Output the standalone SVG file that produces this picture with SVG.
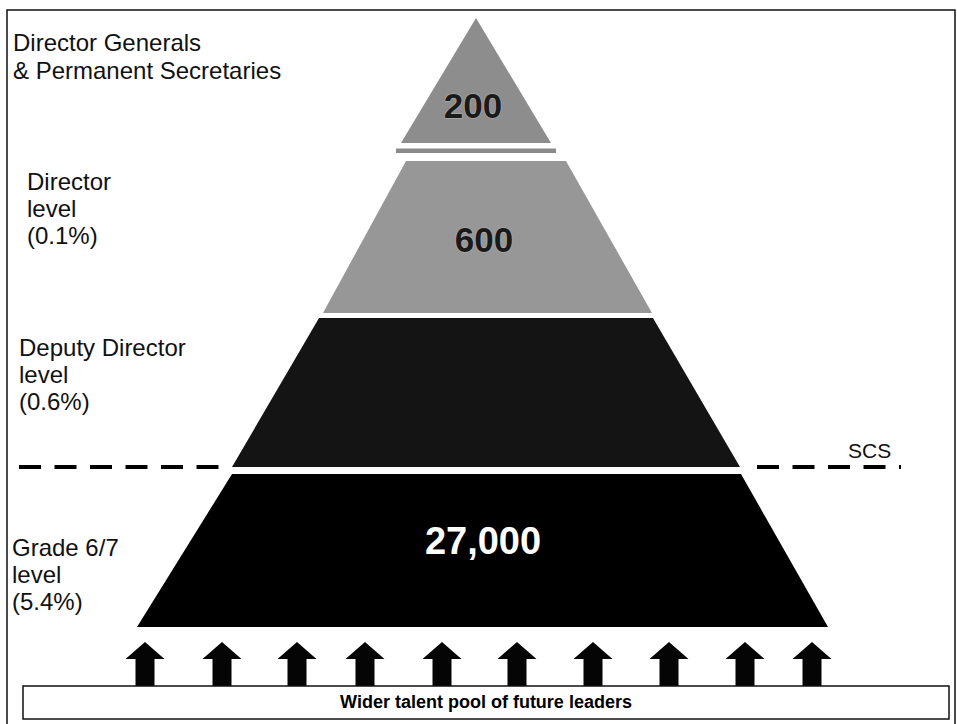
<svg xmlns="http://www.w3.org/2000/svg" width="957" height="724" viewBox="0 0 957 724">
  <style>
    .label { font-family: "Liberation Sans", Arial, sans-serif; font-size: 24px; fill: #111; }
    .count { font-family: "Liberation Sans", Arial, sans-serif; font-size: 35px; font-weight: bold; text-anchor: middle; }
    .dark-count { fill: #1a1a1a; stroke: #b4b4b4; stroke-width: 1.2; paint-order: stroke; }
    .pool-text { font-family: "Liberation Sans", Arial, sans-serif; font-size: 18px; font-weight: bold; text-anchor: middle; fill: #000; }
    .arrow { fill: #050505; }
    .dash { stroke: #000; stroke-width: 4; stroke-dasharray: 22 13.5; fill: none; }
  </style>

  <!-- outer frame -->
  <rect x="7" y="10" width="948" height="716" fill="#fff" stroke="#111" stroke-width="1.5"/>

  <!-- pyramid tiers -->
  <g id="tier-dg">
    <polygon points="476,18 551,143 401,143" fill="#8d8d8d"/>
    <rect x="396" y="148.5" width="160" height="4.5" fill="#8a8a8a"/>
    <text class="count dark-count" x="473" y="118">200</text>
    <text class="label" x="13" y="51">Director Generals</text>
    <text class="label" x="13" y="79">&amp; Permanent Secretaries</text>
  </g>

  <g id="tier-director">
    <polygon points="406,161 566,161 652,313 323,313" fill="#979797"/>
    <text class="count dark-count" x="484" y="252">600</text>
    <text class="label" x="27" y="190">Director</text>
    <text class="label" x="27" y="217">level</text>
    <text class="label" x="27" y="244">(0.1%)</text>
  </g>

  <g id="tier-deputy">
    <polygon points="319,318 653,318 740,467 232,467" fill="#141414"/>
    <text class="label" x="19" y="356">Deputy Director</text>
    <text class="label" x="19" y="383">level</text>
    <text class="label" x="19" y="410">(0.6%)</text>
  </g>

  <g id="tier-grade">
    <polygon points="232,474 741,474 828,627 137,627" fill="#000"/>
    <text class="count" x="483" y="554" fill="#fff" style="font-size:38px">27,000</text>
    <text class="label" x="12" y="556">Grade 6/7</text>
    <text class="label" x="12" y="583">level</text>
    <text class="label" x="12" y="610">(5.4%)</text>
  </g>

  <!-- SCS boundary line -->
  <g id="scs-line">
    <line class="dash" x1="19" y1="467" x2="232" y2="467"/>
    <line class="dash" x1="757" y1="467" x2="901" y2="467"/>
    <text class="label" x="848" y="458" style="font-size:21px">SCS</text>
  </g>

  <!-- upward arrows from the talent pool -->
  <defs>
    <path id="up-arrow" d="M0,-44 L19.5,-27 L9.5,-27 L9.5,0 L-9.5,0 L-9.5,-27 L-19.5,-27 Z"/>
  </defs>
  <g id="connectors" class="arrow">
    <use href="#up-arrow" x="145" y="686"/>
    <use href="#up-arrow" x="222" y="686"/>
    <use href="#up-arrow" x="297" y="686"/>
    <use href="#up-arrow" x="365" y="686"/>
    <use href="#up-arrow" x="442" y="686"/>
    <use href="#up-arrow" x="517" y="686"/>
    <use href="#up-arrow" x="593" y="686"/>
    <use href="#up-arrow" x="669" y="686"/>
    <use href="#up-arrow" x="745" y="686"/>
    <use href="#up-arrow" x="812" y="686"/>
  </g>

  <g id="talent-pool">
    <rect x="23" y="686" width="926" height="33" fill="#fff" stroke="#111" stroke-width="1.5"/>
    <text class="pool-text" x="486" y="708">Wider talent pool of future leaders</text>
  </g>
</svg>
